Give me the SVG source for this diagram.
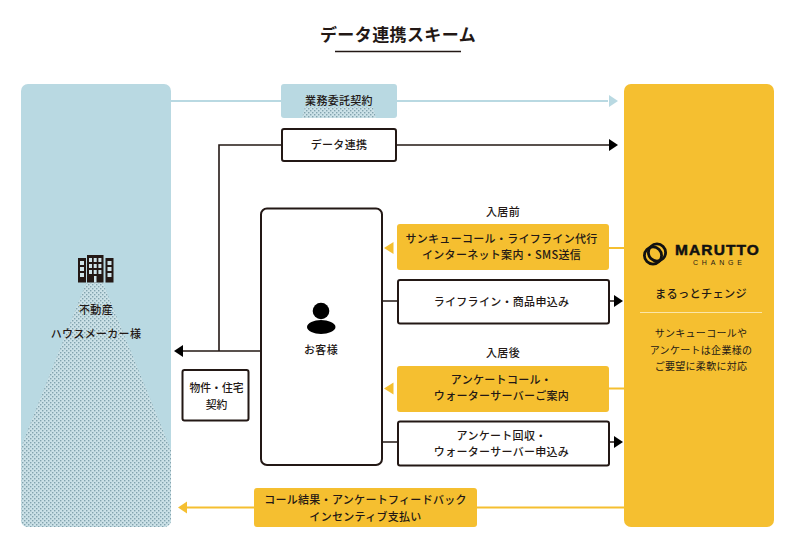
<svg xmlns="http://www.w3.org/2000/svg" width="800" height="552" viewBox="0 0 800 552">
<style>
text{font-family:"Noto Sans CJK JP","Noto Sans",sans-serif;fill:#231815;text-anchor:middle;font-weight:500;font-size:11px;letter-spacing:.3px}
.b{fill:#fff;stroke:#231815;stroke-width:2}
.y{fill:#f5bf30}
.bl{fill:#b9d9e2}
.k{stroke:#231815;stroke-width:1.6;fill:none}
.ly{stroke:#f5bf30;stroke-width:1.8;fill:none}
.lb{stroke:#b9d9e2;stroke-width:1.8;fill:none}
.s{font-size:10px;font-weight:400}
.w{fill:#cfe4ea}
</style>
<defs>
<pattern id="dots" width="4" height="4" patternUnits="userSpaceOnUse">
<rect width="4" height="4" fill="#cbe1e7"/>
<rect x="0" y="0" width="1.4" height="1.4" fill="#82a3ae"/>
<rect x="2" y="2" width="1.4" height="1.4" fill="#82a3ae"/>
</pattern>
<clipPath id="lp"><rect x="21" y="84" width="150" height="443" rx="7"/></clipPath>
</defs>
<rect width="800" height="552" fill="#fff"/>
<g id="title">
<text x="398" y="41" style="font-size:17px;font-weight:700;letter-spacing:.4px">データ連携スキーム</text>
<line x1="335" y1="51.500" x2="461" y2="51.500" stroke="#231815" stroke-width="1.6"/>
</g>
<g id="connectors">
<path class="lb" d="M171 101H281M397 101H608"/>
<polygon class="bl" points="609,95 618,101 609,107"/>
<path class="k" d="M281 145H219V351M397 145H609M261 351H183"/>
<polygon fill="#000" points="609,139 618,145 609,151"/>
<polygon fill="#000" points="183,345 174,351 183,357"/>
<path class="ly" d="M609 248H624M609 388.500H624M477 507.500H624M254 507.500H187"/>
<polygon class="y" points="393.500,242 384,248 393.500,254"/>
<polygon class="y" points="393.500,382.500 384,388.500 393.500,394.500"/>
<polygon class="y" points="187,501.500 178,507.500 187,513.500"/>
<path class="k" d="M382 301H398M382 442H398M609 301H614M609 442H614"/>
<polygon fill="#000" points="614,295 623,301 614,307"/>
<polygon fill="#000" points="614,436 623,442 614,448"/>
</g>
<g id="node-maker">
<rect class="bl" x="21" y="84" width="150" height="443" rx="7"/>
<polygon fill="url(#dots)" clip-path="url(#lp)" points="86,283 21,447 21,527 171,527 171,450 103,283"/>
<g fill="#231815">
<rect x="87" y="255" width="16.500" height="27.500"/>
<rect x="78" y="258" width="8" height="24.500"/>
<rect x="105.500" y="258" width="8" height="24.500"/>
</g>
<g class="w">
<rect x="89" y="258" width="3" height="4"/><rect x="93.700" y="258" width="3" height="4"/><rect x="98.400" y="258" width="3" height="4"/>
<rect x="89" y="264" width="3" height="4"/><rect x="93.700" y="264" width="3" height="4"/><rect x="98.400" y="264" width="3" height="4"/>
<rect x="89" y="270" width="3" height="4"/><rect x="93.700" y="270" width="3" height="4"/><rect x="98.400" y="270" width="3" height="4"/>
<rect x="94" y="276" width="2.500" height="6.500"/>
<rect x="80" y="261" width="4" height="4"/><rect x="80" y="267" width="4" height="4"/><rect x="80" y="273" width="4" height="4"/>
<rect x="107.500" y="261" width="4" height="4"/><rect x="107.500" y="267" width="4" height="4"/><rect x="107.500" y="273" width="4" height="4"/>
</g>
<text x="96" y="314">不動産</text>
<text x="96" y="337.500">ハウスメーカー様</text>
</g>
<g id="node-contract">
<rect class="bl" x="281" y="84" width="116" height="34" rx="3"/>
<polygon fill="url(#dots)" points="305,107 373,107 376,118 302,118"/>
<text x="339" y="105">業務委託契約</text>
</g>
<g id="node-data">
<rect class="b" x="282" y="129" width="114" height="32" rx="2"/>
<text x="339" y="149">データ連携</text>
</g>
<g id="node-customer">
<rect class="b" x="261" y="208.500" width="121" height="256.500" rx="6"/>
<circle cx="321" cy="311" r="8.300" fill="#000"/>
<path d="M307 327C307 323 314 320 321 320C328 320 335.500 323 335.500 327C335.500 331 328 334 321 334C314 334 307 331 307 327Z" fill="#000"/>
<text x="321" y="353.500">お客様</text>
</g>
<g id="node-property">
<rect class="b" x="182.500" y="370" width="66" height="50.500" rx="2"/>
<text x="216.500" y="392" style="font-size:10.800px;letter-spacing:0">物件・住宅</text>
<text x="216.500" y="408.500" style="font-size:10.800px;letter-spacing:0">契約</text>
</g>
<g id="node-before">
<text x="503" y="216">入居前</text>
<rect class="y" x="397" y="224" width="212" height="46" rx="3"/>
<text x="501.500" y="243">サンキューコール・ライフライン代行</text>
<text x="501.500" y="259">インターネット案内・SMS送信</text>
</g>
<g id="node-lifeline">
<rect class="b" x="398" y="280" width="211" height="43.500" rx="2"/>
<text x="501.500" y="306">ライフライン・商品申込み</text>
</g>
<g id="node-after">
<text x="503" y="357">入居後</text>
<rect class="y" x="397" y="366" width="212" height="46" rx="3"/>
<text x="501.500" y="384">アンケートコール・</text>
<text x="501.500" y="400">ウォーターサーバーご案内</text>
</g>
<g id="node-survey">
<rect class="b" x="398" y="421.500" width="211" height="44" rx="2"/>
<text x="501.500" y="440">アンケート回収・</text>
<text x="501.500" y="456">ウォーターサーバー申込み</text>
</g>
<g id="node-feedback">
<rect class="y" x="254" y="488" width="223" height="39" rx="3"/>
<text x="365.500" y="504">コール結果・アンケートフィードバック</text>
<text x="365.500" y="521">インセンティブ支払い</text>
</g>
<g id="node-marutto">
<rect class="y" x="624" y="84" width="150" height="443" rx="7"/>
<circle cx="653" cy="255.500" r="8.600" fill="none" stroke="#111" stroke-width="2.800"/>
<circle cx="657" cy="252.500" r="8.600" fill="none" stroke="#111" stroke-width="2.800"/>
<text x="717.500" y="255" style="font-family:'Liberation Sans',sans-serif;font-size:15.500px;font-weight:700;fill:#111;stroke:#111;stroke-width:.5;letter-spacing:1.100px">MARUTTO</text>
<text x="719.400" y="265" style="font-family:'Liberation Sans',sans-serif;font-size:7px;font-weight:400;letter-spacing:3.800px">CHANGE</text>
<text x="701" y="298" style="font-size:11.200px">まるっとチェンジ</text>
<line x1="640" y1="312.500" x2="762" y2="312.500" stroke="#fbe6a8" stroke-width="1"/>
<text class="s" x="701" y="337">サンキューコールや</text>
<text class="s" x="701" y="354">アンケートは企業様の</text>
<text class="s" x="701" y="370">ご要望に柔軟に対応</text>
</g>
</svg>
